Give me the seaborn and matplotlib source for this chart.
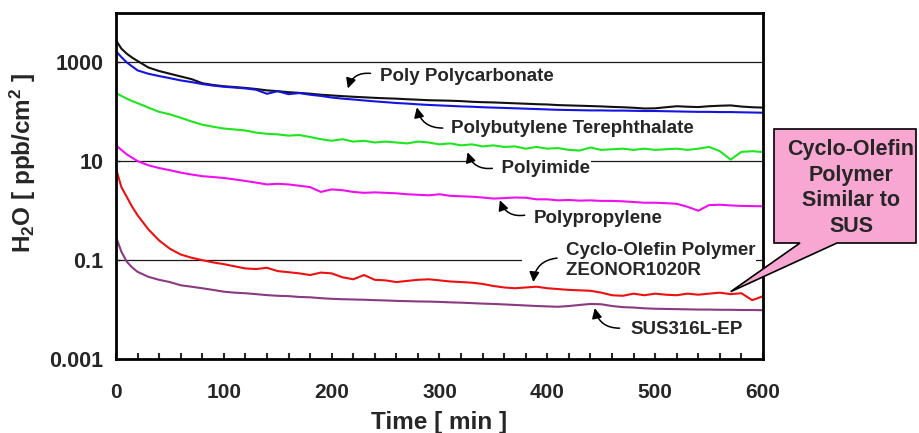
import numpy as np
import pandas as pd
import matplotlib
matplotlib.use("Agg")
import matplotlib.pyplot as plt
import seaborn as sns
from matplotlib.patches import Polygon
from matplotlib.ticker import FixedLocator, MultipleLocator, NullLocator

# Outgassing of H2O from resin and steel samples, ppb/cm^2, versus purge time
time_min = [0, 5, 10, 15, 20, 30, 40, 50, 60, 70, 80, 90, 100, 110, 120, 130,
            140, 150, 160, 170, 180, 190, 200, 210, 220, 230, 240, 250, 260,
            270, 280, 290, 300, 310, 320, 330, 340, 350, 360, 370, 380, 390,
            400, 410, 420, 430, 440, 450, 460, 470, 480, 490, 500, 510, 520,
            530, 540, 550, 560, 570, 580, 590, 600]

polycarbonate = [2800, 1900, 1500, 1250, 1070, 790, 670, 590, 520, 460, 380,
                 350, 330, 318, 305, 290, 272, 262, 250, 242, 233, 222, 215,
                 208, 202, 197, 192, 188, 185, 180, 176, 172, 170, 168, 165,
                 160, 157, 155, 152, 149, 146, 143, 141, 137, 135, 133, 131,
                 129, 126, 124, 121, 117, 118, 124, 130, 127, 125, 130, 133,
                 135, 128, 124, 122]

pbt = [1690, 1280, 1000, 830, 690, 590, 530, 480, 433, 400, 365, 340, 322,
       310, 298, 280, 232, 262, 228, 240, 222, 210, 195, 185, 178, 170, 163,
       157, 151, 147, 142, 138, 135, 132, 129, 127, 124, 122, 120, 118, 116,
       114, 112, 110, 109, 108, 107, 107, 106, 106, 105, 104, 104, 103, 102,
       101, 100, 100, 99, 99, 98, 97, 96]

polyimide = [240, 210, 185, 165, 150, 122, 100, 89, 76, 64, 55, 50, 46, 44,
             42, 38, 36, 35, 33, 34, 31, 28, 26, 28, 25, 26, 24, 25, 24, 23,
             25, 24, 22, 23, 21, 22, 20, 21, 19.5, 20, 18, 19.5, 18, 18.5, 17,
             16.5, 19, 17, 17.5, 18, 17, 18, 17, 17.5, 18, 17, 18, 19.5, 16,
             10.8, 15.5, 16, 15.4]

polypropylene = [21, 17, 13.8, 11.8, 10.1, 8.3, 7.3, 6.6, 5.9, 5.4, 5.0, 4.8,
                 4.6, 4.3, 4.0, 3.7, 3.4, 3.5, 3.4, 3.2, 3.0, 2.4, 2.7, 2.6,
                 2.4, 2.3, 2.35, 2.3, 2.25, 2.15, 2.1, 2.05, 2.15, 2.0, 1.96,
                 1.92, 1.85, 1.76, 1.8, 1.85, 1.83, 1.7, 1.7, 1.62, 1.65, 1.6,
                 1.62, 1.58, 1.58, 1.55, 1.5, 1.45, 1.45, 1.42, 1.38, 1.2, 1.0,
                 1.3, 1.32, 1.28, 1.25, 1.24, 1.23]

cyclo_olefin = [7.1, 3.0, 1.9, 1.2, 0.81, 0.42, 0.25, 0.17, 0.13, 0.112, 0.100,
                0.090, 0.083, 0.075, 0.068, 0.066, 0.070, 0.060, 0.057, 0.054,
                0.050, 0.056, 0.054, 0.045, 0.041, 0.050, 0.040, 0.039, 0.036,
                0.038, 0.040, 0.041, 0.039, 0.037, 0.036, 0.035, 0.033, 0.030,
                0.028, 0.027, 0.028, 0.029, 0.027, 0.026, 0.025, 0.0245, 0.024,
                0.022, 0.0195, 0.019, 0.021, 0.0195, 0.021, 0.020, 0.0195,
                0.021, 0.020, 0.021, 0.022, 0.0205, 0.0214, 0.0155, 0.0186]

sus316l = [0.295, 0.148, 0.093, 0.071, 0.058, 0.046, 0.040, 0.036, 0.031,
           0.029, 0.027, 0.025, 0.023, 0.022, 0.0214, 0.0205, 0.0196, 0.019,
           0.0187, 0.018, 0.0177, 0.017, 0.0165, 0.0162, 0.016, 0.0158,
           0.0155, 0.0153, 0.015, 0.0148, 0.0146, 0.0145, 0.0143, 0.014,
           0.0138, 0.0135, 0.0132, 0.013, 0.0127, 0.0124, 0.0121, 0.0118,
           0.0116, 0.0114, 0.0118, 0.0124, 0.013, 0.0128, 0.0118, 0.0112,
           0.011, 0.0106, 0.0104, 0.0103, 0.0102, 0.0101, 0.0100, 0.0100,
           0.0099, 0.0099, 0.0098, 0.0098, 0.0097]

materials = ["Poly Polycarbonate", "Polybutylene Terephthalate", "Polyimide",
             "Polypropylene", "Cyclo-Olefin Polymer ZEONOR1020R", "SUS316L-EP"]
series = [polycarbonate, pbt, polyimide, polypropylene, cyclo_olefin, sus316l]
colors = ["#111111", "#1414e0", "#1ee61e", "#ee10ee", "#ee1010", "#8a3a80"]

df = pd.DataFrame({
    "Time": np.tile(time_min, len(series)),
    "H2O": np.concatenate(series),
    "Material": np.repeat(materials, len(time_min)),
})

sns.set_style("ticks")
plt.rcParams["font.family"] = ["Liberation Sans", "DejaVu Sans"]
plt.rcParams["font.weight"] = "bold"
plt.rcParams["mathtext.fontset"] = "custom"
plt.rcParams["mathtext.rm"] = "Liberation Sans:bold"
plt.rcParams["mathtext.it"] = "Liberation Sans:bold"
plt.rcParams["mathtext.bf"] = "Liberation Sans:bold"
plt.rcParams["mathtext.default"] = "rm"

W, H = 919, 433
fig = plt.figure(figsize=(W / 100, H / 100), dpi=100)
ax = fig.add_axes([116 / W, 1 - 359 / H, (763 - 116) / W, (359 - 13) / H])

sns.lineplot(data=df, x="Time", y="H2O", hue="Material", hue_order=materials,
             palette=dict(zip(materials, colors)), estimator=None, sort=False,
             legend=False, linewidth=1.5, ax=ax, zorder=2)

ax.set_yscale("log")
ax.set_xlim(0, 600)
ax.set_ylim(1e-3, 1e4)

for v in [1e3, 1e1, 1e-1]:
    ax.axhline(v, color="#1a1a1a", lw=0.9, zorder=1)

ax.yaxis.set_major_locator(FixedLocator([1e-3, 1e-1, 1e1, 1e3]))
ax.yaxis.set_minor_locator(NullLocator())
ax.set_yticklabels(["0.001", "0.1", "10", "1000"])
ax.xaxis.set_major_locator(MultipleLocator(100))
ax.xaxis.set_minor_locator(MultipleLocator(20))
ax.tick_params(axis="x", which="both", direction="in", length=4, width=1.5,
               labelsize=15, pad=17)
ax.tick_params(axis="y", which="both", direction="in", length=3, width=1,
               labelsize=15.5, pad=9)
for lab in ax.get_xticklabels() + ax.get_yticklabels():
    lab.set_fontweight("bold")
for s in ax.spines.values():
    s.set_linewidth(2)
    s.set_color("black")

ax.set_xlabel("Time [ min ]", fontsize=17.5, fontweight="bold", labelpad=7)
ax.set_ylabel(r"H$_2$O [ ppb/cm$^2$ ]", fontsize=17.5, fontweight="bold")
ax.yaxis.set_label_coords(-0.12, 0.566)

# Series labels with curved pointers
label_kw = dict(fontsize=13.5, fontweight="bold", ha="left", va="center",
                zorder=3)
box = dict(facecolor="white", edgecolor="none", pad=1)
ax.text(245, 520, "Poly Polycarbonate", **label_kw)
ax.text(311, 47, "Polybutylene Terephthalate", **label_kw)
ax.text(328, 7.2, "      Polyimide", bbox=box, **label_kw)
ax.text(387, 0.71, "Polypropylene", **label_kw)
ax.text(378, 0.098, "        Cyclo-Olefin Polymer\n        ZEONOR1020R",
        bbox=box, linespacing=1.25, **label_kw)
ax.text(477, 0.0039, "SUS316L-EP", **label_kw)

arrows = [((236, 600), (215, 298), 0.4),
          ((303, 47), (279, 123), -0.4),
          ((349, 7.2), (326, 15.2), -0.4),
          ((379, 0.81), (356, 1.63), -0.4),
          ((409, 0.11), (387, 0.036), 0.4),
          ((467, 0.0042), (444, 0.0107), -0.4)]
for start, tip, rad in arrows:
    ax.annotate("", xy=tip, xytext=start, zorder=4,
                arrowprops=dict(arrowstyle="-|>", color="black", lw=1.1,
                                mutation_scale=15, shrinkA=0, shrinkB=0,
                                connectionstyle=f"arc3,rad={rad}"))

# Pink callout pointing at the cyclo-olefin trace
def px(x, y):
    return (x / W, 1 - y / H)

tip_fig = fig.transFigure.inverted().transform(ax.transData.transform((570, 0.023)))
callout = Polygon([px(774, 129), px(916, 129), px(916, 243), px(837, 243),
                   tuple(tip_fig), px(800, 243), px(774, 243)],
                  closed=True, transform=fig.transFigure, facecolor="#f8a6d2",
                  edgecolor="black", lw=1.2, zorder=10, clip_on=False)
fig.patches.append(callout)
fig.text(851 / W, 1 - 188 / H, "Cyclo-Olefin\nPolymer\nSimilar to\nSUS",
         ha="center", va="center", fontsize=15.5, fontweight="bold",
         linespacing=1.3, zorder=11)

fig.savefig("out.png", dpi=100)
